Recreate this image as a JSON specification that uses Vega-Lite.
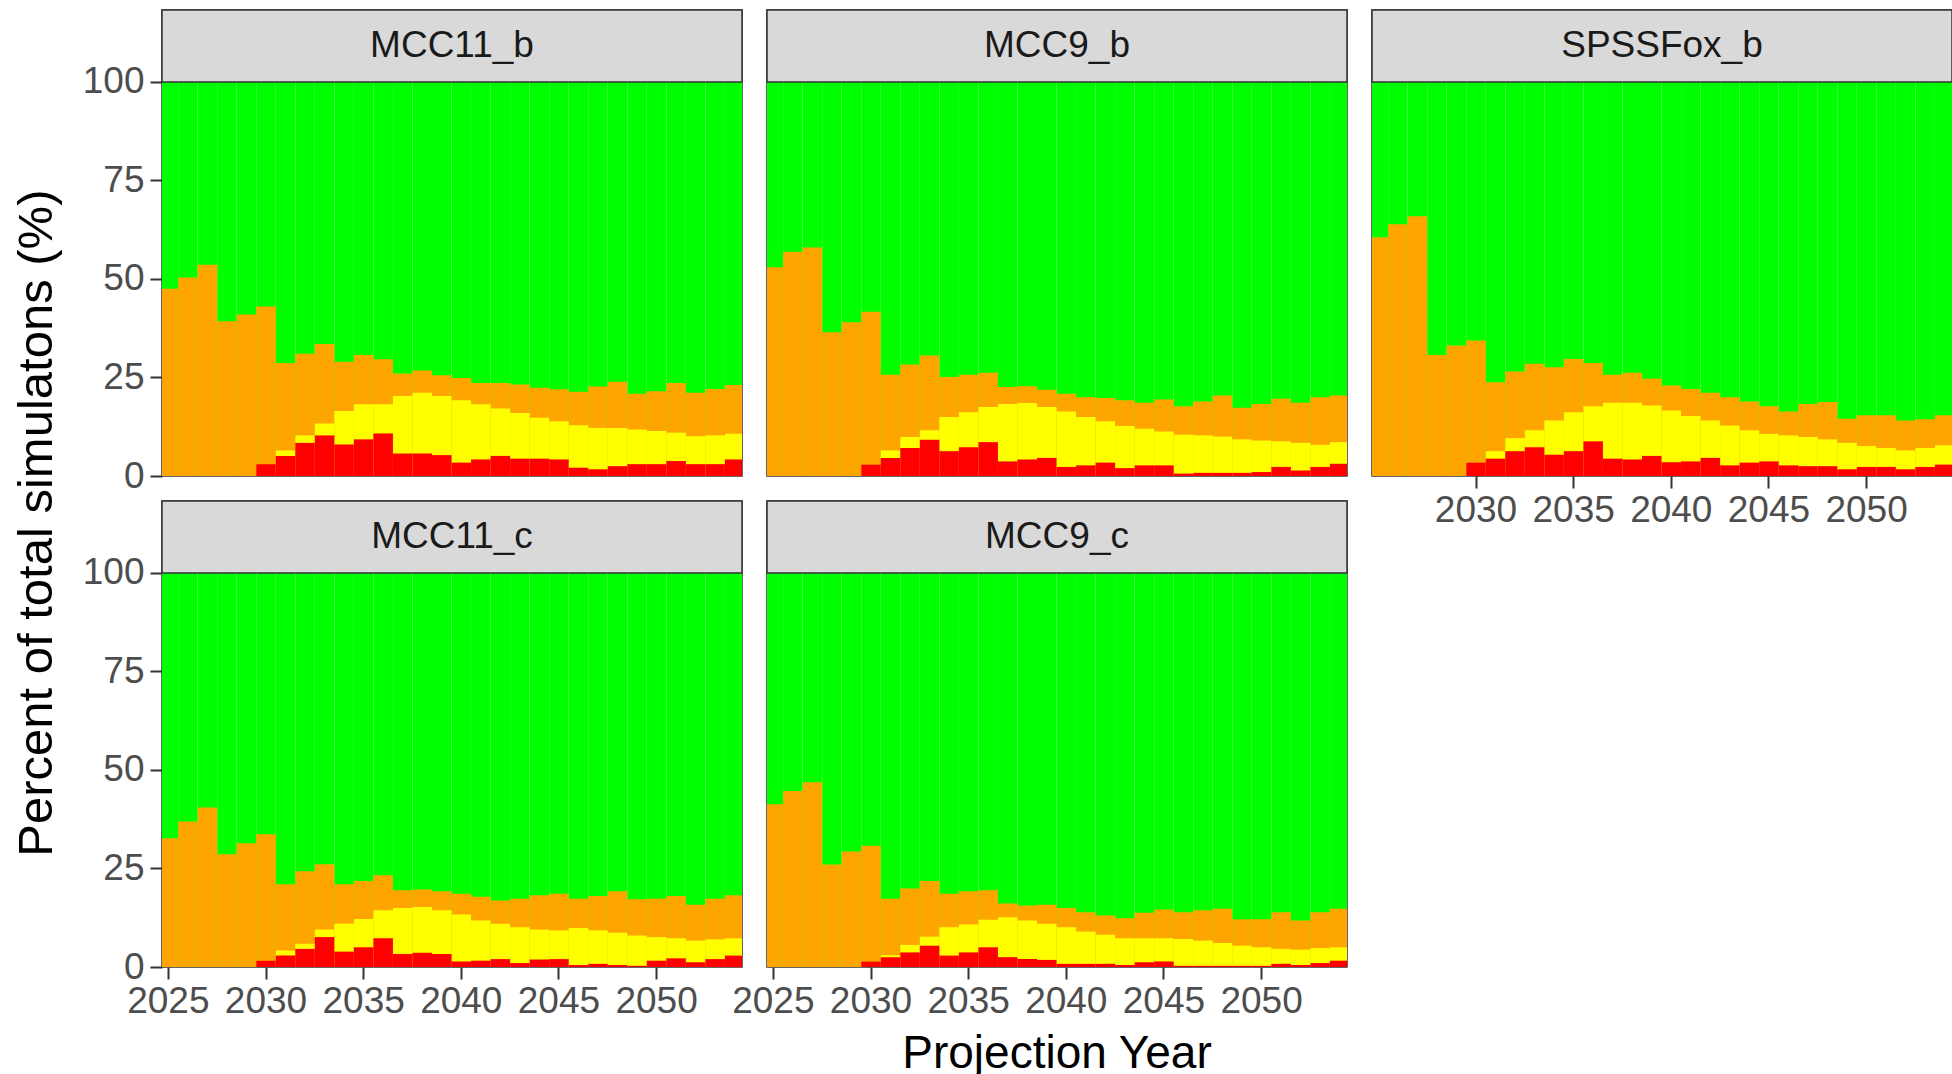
{
  "$schema": "https://vega.github.io/schema/vega-lite/v6.json",
  "background": "white",
  "padding": {"left": 12, "top": 8, "right": 0, "bottom": 0},
  "title": {"text": "Projection Year", "orient": "bottom", "anchor": "middle", "dx": 74, "fontSize": 46, "font": "Liberation Sans", "fontWeight": "normal", "color": "#000000", "offset": 12},
  "data": {"values": [
    {"p":"MCC11_b","y":2025,"r":0,"yl":0,"o":47.5},{"p":"MCC11_b","y":2026,"r":0,"yl":0,"o":50.4},{"p":"MCC11_b","y":2027,"r":0,"yl":0,"o":53.6},{"p":"MCC11_b","y":2028,"r":0,"yl":0,"o":39.3},{"p":"MCC11_b","y":2029,"r":0,"yl":0,"o":41},
    {"p":"MCC11_b","y":2030,"r":3,"yl":3,"o":43},{"p":"MCC11_b","y":2031,"r":5.1,"yl":6.5,"o":28.7},{"p":"MCC11_b","y":2032,"r":8.4,"yl":10.3,"o":31},{"p":"MCC11_b","y":2033,"r":10.3,"yl":13.3,"o":33.5},{"p":"MCC11_b","y":2034,"r":8,"yl":16.5,"o":29},
    {"p":"MCC11_b","y":2035,"r":9.3,"yl":18.2,"o":30.7},{"p":"MCC11_b","y":2036,"r":10.8,"yl":18.2,"o":29.6},{"p":"MCC11_b","y":2037,"r":5.7,"yl":20.3,"o":26},{"p":"MCC11_b","y":2038,"r":5.7,"yl":21.1,"o":26.8},{"p":"MCC11_b","y":2039,"r":5.3,"yl":20.3,"o":25.6},
    {"p":"MCC11_b","y":2040,"r":3.4,"yl":19.2,"o":24.9},{"p":"MCC11_b","y":2041,"r":4.2,"yl":18.2,"o":23.6},{"p":"MCC11_b","y":2042,"r":5.1,"yl":17.1,"o":23.6},{"p":"MCC11_b","y":2043,"r":4.4,"yl":16,"o":23.2},{"p":"MCC11_b","y":2044,"r":4.4,"yl":14.8,"o":22.4},
    {"p":"MCC11_b","y":2045,"r":4.2,"yl":13.9,"o":22},{"p":"MCC11_b","y":2046,"r":2.1,"yl":12.9,"o":21.4},{"p":"MCC11_b","y":2047,"r":1.7,"yl":12.2,"o":22.7},{"p":"MCC11_b","y":2048,"r":2.5,"yl":12.2,"o":23.9},{"p":"MCC11_b","y":2049,"r":3,"yl":11.8,"o":20.9},
    {"p":"MCC11_b","y":2050,"r":3,"yl":11.4,"o":21.5},{"p":"MCC11_b","y":2051,"r":3.8,"yl":11,"o":23.6},{"p":"MCC11_b","y":2052,"r":3,"yl":10.1,"o":21.1},{"p":"MCC11_b","y":2053,"r":3,"yl":10.3,"o":22.1},{"p":"MCC11_b","y":2054,"r":4.2,"yl":10.7,"o":23.1},

    {"p":"MCC9_b","y":2025,"r":0,"yl":0,"o":53},{"p":"MCC9_b","y":2026,"r":0,"yl":0,"o":56.9},{"p":"MCC9_b","y":2027,"r":0,"yl":0,"o":58},{"p":"MCC9_b","y":2028,"r":0,"yl":0,"o":36.5},{"p":"MCC9_b","y":2029,"r":0,"yl":0,"o":39},
    {"p":"MCC9_b","y":2030,"r":2.9,"yl":2.9,"o":41.7},{"p":"MCC9_b","y":2031,"r":4.6,"yl":6.5,"o":25.7},{"p":"MCC9_b","y":2032,"r":7.1,"yl":9.9,"o":28.3},{"p":"MCC9_b","y":2033,"r":9.2,"yl":11.6,"o":30.6},{"p":"MCC9_b","y":2034,"r":6.3,"yl":15,"o":25.1},
    {"p":"MCC9_b","y":2035,"r":7.3,"yl":16.2,"o":25.7},{"p":"MCC9_b","y":2036,"r":8.6,"yl":17.5,"o":26.2},{"p":"MCC9_b","y":2037,"r":3.7,"yl":18.3,"o":22.6},{"p":"MCC9_b","y":2038,"r":4.2,"yl":18.5,"o":22.8},{"p":"MCC9_b","y":2039,"r":4.6,"yl":17.5,"o":21.9},
    {"p":"MCC9_b","y":2040,"r":2.3,"yl":16.4,"o":20.9},{"p":"MCC9_b","y":2041,"r":2.7,"yl":15,"o":20},{"p":"MCC9_b","y":2042,"r":3.4,"yl":13.9,"o":19.8},{"p":"MCC9_b","y":2043,"r":2,"yl":12.7,"o":19.2},{"p":"MCC9_b","y":2044,"r":2.7,"yl":12,"o":18.6},
    {"p":"MCC9_b","y":2045,"r":2.7,"yl":11.3,"o":19.4},{"p":"MCC9_b","y":2046,"r":0.6,"yl":10.5,"o":17.7},{"p":"MCC9_b","y":2047,"r":0.8,"yl":10.3,"o":18.9},{"p":"MCC9_b","y":2048,"r":0.8,"yl":10,"o":20.4},{"p":"MCC9_b","y":2049,"r":0.8,"yl":9.3,"o":17.3},
    {"p":"MCC9_b","y":2050,"r":1,"yl":9,"o":18.3},{"p":"MCC9_b","y":2051,"r":2.3,"yl":8.8,"o":19.6},{"p":"MCC9_b","y":2052,"r":1.4,"yl":8.4,"o":18.6},{"p":"MCC9_b","y":2053,"r":2.3,"yl":7.9,"o":20},{"p":"MCC9_b","y":2054,"r":3.1,"yl":8.6,"o":20.4},

    {"p":"SPSSFox_b","y":2025,"r":0,"yl":0,"o":60.6},{"p":"SPSSFox_b","y":2026,"r":0,"yl":0,"o":63.9},{"p":"SPSSFox_b","y":2027,"r":0,"yl":0,"o":65.9},{"p":"SPSSFox_b","y":2028,"r":0,"yl":0,"o":30.7},{"p":"SPSSFox_b","y":2029,"r":0,"yl":0,"o":33.1},
    {"p":"SPSSFox_b","y":2030,"r":3.4,"yl":3.4,"o":34.4},{"p":"SPSSFox_b","y":2031,"r":4.4,"yl":6.3,"o":23.8},{"p":"SPSSFox_b","y":2032,"r":6.3,"yl":9.6,"o":26.5},{"p":"SPSSFox_b","y":2033,"r":7.3,"yl":11.6,"o":28.5},{"p":"SPSSFox_b","y":2034,"r":5.4,"yl":14.1,"o":27.6},
    {"p":"SPSSFox_b","y":2035,"r":6.3,"yl":16.2,"o":29.7},{"p":"SPSSFox_b","y":2036,"r":8.8,"yl":17.7,"o":28.7},{"p":"SPSSFox_b","y":2037,"r":4.4,"yl":18.6,"o":25.7},{"p":"SPSSFox_b","y":2038,"r":4.2,"yl":18.6,"o":26.2},{"p":"SPSSFox_b","y":2039,"r":5.1,"yl":17.9,"o":24.7},
    {"p":"SPSSFox_b","y":2040,"r":3.5,"yl":16.6,"o":23},{"p":"SPSSFox_b","y":2041,"r":3.7,"yl":15.2,"o":22.1},{"p":"SPSSFox_b","y":2042,"r":4.6,"yl":14.1,"o":21.1},{"p":"SPSSFox_b","y":2043,"r":2.7,"yl":12.8,"o":20},{"p":"SPSSFox_b","y":2044,"r":3.4,"yl":11.6,"o":18.9},
    {"p":"SPSSFox_b","y":2045,"r":3.7,"yl":10.7,"o":17.7},{"p":"SPSSFox_b","y":2046,"r":2.7,"yl":10.3,"o":16.4},{"p":"SPSSFox_b","y":2047,"r":2.5,"yl":9.9,"o":18.3},{"p":"SPSSFox_b","y":2048,"r":2.5,"yl":9.3,"o":18.8},{"p":"SPSSFox_b","y":2049,"r":1.7,"yl":8.4,"o":14.5},
    {"p":"SPSSFox_b","y":2050,"r":2.3,"yl":7.6,"o":15.4},{"p":"SPSSFox_b","y":2051,"r":2.3,"yl":7.1,"o":15.4},{"p":"SPSSFox_b","y":2052,"r":1.7,"yl":6.5,"o":14.1},{"p":"SPSSFox_b","y":2053,"r":2.3,"yl":7.1,"o":14.4},{"p":"SPSSFox_b","y":2054,"r":2.9,"yl":7.8,"o":15.4},

    {"p":"MCC11_c","y":2025,"r":0,"yl":0,"o":32.7},{"p":"MCC11_c","y":2026,"r":0,"yl":0,"o":36.9},{"p":"MCC11_c","y":2027,"r":0,"yl":0,"o":40.5},{"p":"MCC11_c","y":2028,"r":0,"yl":0,"o":28.6},{"p":"MCC11_c","y":2029,"r":0,"yl":0,"o":31.4},
    {"p":"MCC11_c","y":2030,"r":1.6,"yl":1.6,"o":33.7},{"p":"MCC11_c","y":2031,"r":2.9,"yl":4.2,"o":21},{"p":"MCC11_c","y":2032,"r":4.6,"yl":5.9,"o":24.3},{"p":"MCC11_c","y":2033,"r":7.6,"yl":9.5,"o":26.1},{"p":"MCC11_c","y":2034,"r":3.9,"yl":11,"o":21},
    {"p":"MCC11_c","y":2035,"r":5,"yl":12.2,"o":21.8},{"p":"MCC11_c","y":2036,"r":7.3,"yl":14.4,"o":23.3},{"p":"MCC11_c","y":2037,"r":3.3,"yl":15,"o":19.5},{"p":"MCC11_c","y":2038,"r":3.6,"yl":15.2,"o":19.7},{"p":"MCC11_c","y":2039,"r":3.3,"yl":14.4,"o":19.2},
    {"p":"MCC11_c","y":2040,"r":1.4,"yl":13.3,"o":18.6},{"p":"MCC11_c","y":2041,"r":1.6,"yl":11.8,"o":17.8},{"p":"MCC11_c","y":2042,"r":2,"yl":11,"o":16.9},{"p":"MCC11_c","y":2043,"r":1,"yl":10.1,"o":17.3},{"p":"MCC11_c","y":2044,"r":1.9,"yl":9.5,"o":18.2},
    {"p":"MCC11_c","y":2045,"r":2,"yl":9.3,"o":18.6},{"p":"MCC11_c","y":2046,"r":0.5,"yl":9.9,"o":17.3},{"p":"MCC11_c","y":2047,"r":0.8,"yl":9.3,"o":18},{"p":"MCC11_c","y":2048,"r":0.5,"yl":8.7,"o":19.2},{"p":"MCC11_c","y":2049,"r":0.3,"yl":8,"o":17.2},
    {"p":"MCC11_c","y":2050,"r":1.6,"yl":7.6,"o":17.3},{"p":"MCC11_c","y":2051,"r":2.2,"yl":7.3,"o":18},{"p":"MCC11_c","y":2052,"r":1.2,"yl":6.7,"o":15.8},{"p":"MCC11_c","y":2053,"r":2,"yl":7,"o":17.3},{"p":"MCC11_c","y":2054,"r":2.9,"yl":7.3,"o":18.2},

    {"p":"MCC9_c","y":2025,"r":0,"yl":0,"o":41.3},{"p":"MCC9_c","y":2026,"r":0,"yl":0,"o":44.7},{"p":"MCC9_c","y":2027,"r":0,"yl":0,"o":46.9},{"p":"MCC9_c","y":2028,"r":0,"yl":0,"o":26},{"p":"MCC9_c","y":2029,"r":0,"yl":0,"o":29.3},
    {"p":"MCC9_c","y":2030,"r":1.4,"yl":1.4,"o":30.8},{"p":"MCC9_c","y":2031,"r":2.5,"yl":3,"o":17.3},{"p":"MCC9_c","y":2032,"r":3.7,"yl":5.6,"o":19.9},{"p":"MCC9_c","y":2033,"r":5.4,"yl":7.7,"o":21.8},{"p":"MCC9_c","y":2034,"r":2.9,"yl":10.1,"o":18.6},
    {"p":"MCC9_c","y":2035,"r":3.7,"yl":10.8,"o":19.2},{"p":"MCC9_c","y":2036,"r":5,"yl":12,"o":19.5},{"p":"MCC9_c","y":2037,"r":2.5,"yl":12.6,"o":16.1},{"p":"MCC9_c","y":2038,"r":2,"yl":11.8,"o":15.6},{"p":"MCC9_c","y":2039,"r":1.8,"yl":11,"o":15.8},
    {"p":"MCC9_c","y":2040,"r":0.8,"yl":10.1,"o":15},{"p":"MCC9_c","y":2041,"r":0.8,"yl":9,"o":13.9},{"p":"MCC9_c","y":2042,"r":0.8,"yl":8.2,"o":13.1},{"p":"MCC9_c","y":2043,"r":0.5,"yl":7.3,"o":12.4},{"p":"MCC9_c","y":2044,"r":1.2,"yl":7.3,"o":13.8},
    {"p":"MCC9_c","y":2045,"r":1.4,"yl":7.3,"o":14.6},{"p":"MCC9_c","y":2046,"r":0.3,"yl":7.1,"o":13.9},{"p":"MCC9_c","y":2047,"r":0.3,"yl":6.7,"o":14.4},{"p":"MCC9_c","y":2048,"r":0.3,"yl":6.1,"o":14.8},{"p":"MCC9_c","y":2049,"r":0.3,"yl":5.4,"o":12.1},
    {"p":"MCC9_c","y":2050,"r":0.3,"yl":5,"o":12.1},{"p":"MCC9_c","y":2051,"r":0.8,"yl":4.6,"o":13.9},{"p":"MCC9_c","y":2052,"r":0.5,"yl":4.4,"o":11.8},{"p":"MCC9_c","y":2053,"r":1,"yl":4.8,"o":13.9},{"p":"MCC9_c","y":2054,"r":1.6,"yl":5,"o":14.8}
  ]},
  "vconcat": [
    {
      "title": {"text": "Percent of total simulatons (%)", "orient": "left", "anchor": "middle", "dx": -9, "fontSize": 49, "font": "Liberation Sans", "fontWeight": "normal", "color": "#000000", "offset": 20},
      "columns": 3,
      "bounds": "flush",
      "spacing": {"row": 25, "column": 25},
      "concat": [
        {
          "width": 580, "height": 466,
          "transform": [{"filter": {"field": "p", "equal": "MCC11_b"}}],
          "layer": [
            {"mark": {"type": "bar", "color": "#00FF00", "clip": true}, "encoding": {
              "x": {"field": "y", "type": "quantitative", "bin": {"step": 1, "extent": [2024.5, 2054.5], "nice": false}, "scale": {"domain": [2024.7, 2054.4], "nice": false, "zero": false}, "axis": null},
              "y": {"datum": 100, "type": "quantitative", "scale": {"domain": [0, 118.27], "nice": false}, "axis": {"values": [0, 25, 50, 75, 100], "title": null}}}},
            {"mark": {"type": "bar", "color": "#FFA500", "clip": true}, "encoding": {
              "x": {"field": "y", "type": "quantitative", "bin": {"step": 1, "extent": [2024.5, 2054.5], "nice": false}, "scale": {"domain": [2024.7, 2054.4], "nice": false, "zero": false}, "axis": null},
              "y": {"field": "o", "type": "quantitative", "scale": {"domain": [0, 118.27], "nice": false}, "axis": {"values": [0, 25, 50, 75, 100], "title": null}}}},
            {"mark": {"type": "bar", "color": "#FFFF00", "clip": true}, "encoding": {
              "x": {"field": "y", "type": "quantitative", "bin": {"step": 1, "extent": [2024.5, 2054.5], "nice": false}, "scale": {"domain": [2024.7, 2054.4], "nice": false, "zero": false}, "axis": null},
              "y": {"field": "yl", "type": "quantitative", "scale": {"domain": [0, 118.27], "nice": false}, "axis": {"values": [0, 25, 50, 75, 100], "title": null}}}},
            {"mark": {"type": "bar", "color": "#FF0000", "clip": true}, "encoding": {
              "x": {"field": "y", "type": "quantitative", "bin": {"step": 1, "extent": [2024.5, 2054.5], "nice": false}, "scale": {"domain": [2024.7, 2054.4], "nice": false, "zero": false}, "axis": null},
              "y": {"field": "r", "type": "quantitative", "scale": {"domain": [0, 118.27], "nice": false}, "axis": {"values": [0, 25, 50, 75, 100], "title": null}}}},
            {"transform": [{"aggregate": [{"op": "count", "as": "n"}], "groupby": ["p"]}],
             "mark": {"type": "rect", "fill": "#D9D9D9", "stroke": "#333333", "strokeWidth": 1.5}, "encoding": {
              "x": {"datum": 2024.7, "type": "quantitative", "axis": null}, "x2": {"datum": 2054.4},
              "y": {"datum": 100, "type": "quantitative", "axis": {"values": [0, 25, 50, 75, 100], "title": null}}, "y2": {"datum": 118.27}}},
            {"transform": [{"aggregate": [{"op": "count", "as": "n"}], "groupby": ["p"]}],
             "mark": {"type": "text", "fontSize": 37, "font": "Liberation Sans", "color": "#1A1A1A", "align": "center", "baseline": "middle"}, "encoding": {
              "x": {"datum": 2039.55, "type": "quantitative", "axis": null},
              "y": {"datum": 109.1, "type": "quantitative", "axis": {"values": [0, 25, 50, 75, 100], "title": null}},
              "text": {"field": "p", "type": "nominal"}}}
          ]
        },
        {
          "width": 580, "height": 466,
          "transform": [{"filter": {"field": "p", "equal": "MCC9_b"}}],
          "layer": [
            {"mark": {"type": "bar", "color": "#00FF00", "clip": true}, "encoding": {
              "x": {"field": "y", "type": "quantitative", "bin": {"step": 1, "extent": [2024.5, 2054.5], "nice": false}, "scale": {"domain": [2024.7, 2054.4], "nice": false, "zero": false}, "axis": null},
              "y": {"datum": 100, "type": "quantitative", "scale": {"domain": [0, 118.27], "nice": false}, "axis": null}}},
            {"mark": {"type": "bar", "color": "#FFA500", "clip": true}, "encoding": {
              "x": {"field": "y", "type": "quantitative", "bin": {"step": 1, "extent": [2024.5, 2054.5], "nice": false}, "scale": {"domain": [2024.7, 2054.4], "nice": false, "zero": false}, "axis": null},
              "y": {"field": "o", "type": "quantitative", "scale": {"domain": [0, 118.27], "nice": false}, "axis": null}}},
            {"mark": {"type": "bar", "color": "#FFFF00", "clip": true}, "encoding": {
              "x": {"field": "y", "type": "quantitative", "bin": {"step": 1, "extent": [2024.5, 2054.5], "nice": false}, "scale": {"domain": [2024.7, 2054.4], "nice": false, "zero": false}, "axis": null},
              "y": {"field": "yl", "type": "quantitative", "scale": {"domain": [0, 118.27], "nice": false}, "axis": null}}},
            {"mark": {"type": "bar", "color": "#FF0000", "clip": true}, "encoding": {
              "x": {"field": "y", "type": "quantitative", "bin": {"step": 1, "extent": [2024.5, 2054.5], "nice": false}, "scale": {"domain": [2024.7, 2054.4], "nice": false, "zero": false}, "axis": null},
              "y": {"field": "r", "type": "quantitative", "scale": {"domain": [0, 118.27], "nice": false}, "axis": null}}},
            {"transform": [{"aggregate": [{"op": "count", "as": "n"}], "groupby": ["p"]}],
             "mark": {"type": "rect", "fill": "#D9D9D9", "stroke": "#333333", "strokeWidth": 1.5}, "encoding": {
              "x": {"datum": 2024.7, "type": "quantitative", "axis": null}, "x2": {"datum": 2054.4},
              "y": {"datum": 100, "type": "quantitative", "axis": null}, "y2": {"datum": 118.27}}},
            {"transform": [{"aggregate": [{"op": "count", "as": "n"}], "groupby": ["p"]}],
             "mark": {"type": "text", "fontSize": 37, "font": "Liberation Sans", "color": "#1A1A1A", "align": "center", "baseline": "middle"}, "encoding": {
              "x": {"datum": 2039.55, "type": "quantitative", "axis": null},
              "y": {"datum": 109.1, "type": "quantitative", "axis": null},
              "text": {"field": "p", "type": "nominal"}}}
          ]
        },
        {
          "width": 580, "height": 466,
          "transform": [{"filter": {"field": "p", "equal": "SPSSFox_b"}}],
          "layer": [
            {"mark": {"type": "bar", "color": "#00FF00", "clip": true}, "encoding": {
              "x": {"field": "y", "type": "quantitative", "bin": {"step": 1, "extent": [2024.5, 2054.5], "nice": false}, "scale": {"domain": [2024.7, 2054.4], "nice": false, "zero": false}, "axis": {"values": [2030, 2035, 2040, 2045, 2050], "format": "d", "title": null}},
              "y": {"datum": 100, "type": "quantitative", "scale": {"domain": [0, 118.27], "nice": false}, "axis": null}}},
            {"mark": {"type": "bar", "color": "#FFA500", "clip": true}, "encoding": {
              "x": {"field": "y", "type": "quantitative", "bin": {"step": 1, "extent": [2024.5, 2054.5], "nice": false}, "scale": {"domain": [2024.7, 2054.4], "nice": false, "zero": false}, "axis": {"values": [2030, 2035, 2040, 2045, 2050], "format": "d", "title": null}},
              "y": {"field": "o", "type": "quantitative", "scale": {"domain": [0, 118.27], "nice": false}, "axis": null}}},
            {"mark": {"type": "bar", "color": "#FFFF00", "clip": true}, "encoding": {
              "x": {"field": "y", "type": "quantitative", "bin": {"step": 1, "extent": [2024.5, 2054.5], "nice": false}, "scale": {"domain": [2024.7, 2054.4], "nice": false, "zero": false}, "axis": {"values": [2030, 2035, 2040, 2045, 2050], "format": "d", "title": null}},
              "y": {"field": "yl", "type": "quantitative", "scale": {"domain": [0, 118.27], "nice": false}, "axis": null}}},
            {"mark": {"type": "bar", "color": "#FF0000", "clip": true}, "encoding": {
              "x": {"field": "y", "type": "quantitative", "bin": {"step": 1, "extent": [2024.5, 2054.5], "nice": false}, "scale": {"domain": [2024.7, 2054.4], "nice": false, "zero": false}, "axis": {"values": [2030, 2035, 2040, 2045, 2050], "format": "d", "title": null}},
              "y": {"field": "r", "type": "quantitative", "scale": {"domain": [0, 118.27], "nice": false}, "axis": null}}},
            {"transform": [{"aggregate": [{"op": "count", "as": "n"}], "groupby": ["p"]}],
             "mark": {"type": "rect", "fill": "#D9D9D9", "stroke": "#333333", "strokeWidth": 1.5}, "encoding": {
              "x": {"datum": 2024.7, "type": "quantitative", "axis": {"values": [2030, 2035, 2040, 2045, 2050], "format": "d", "title": null}}, "x2": {"datum": 2054.4},
              "y": {"datum": 100, "type": "quantitative", "axis": null}, "y2": {"datum": 118.27}}},
            {"transform": [{"aggregate": [{"op": "count", "as": "n"}], "groupby": ["p"]}],
             "mark": {"type": "text", "fontSize": 37, "font": "Liberation Sans", "color": "#1A1A1A", "align": "center", "baseline": "middle"}, "encoding": {
              "x": {"datum": 2039.55, "type": "quantitative", "axis": {"values": [2030, 2035, 2040, 2045, 2050], "format": "d", "title": null}},
              "y": {"datum": 109.1, "type": "quantitative", "axis": null},
              "text": {"field": "p", "type": "nominal"}}}
          ]
        },
        {
          "width": 580, "height": 466,
          "transform": [{"filter": {"field": "p", "equal": "MCC11_c"}}],
          "layer": [
            {"mark": {"type": "bar", "color": "#00FF00", "clip": true}, "encoding": {
              "x": {"field": "y", "type": "quantitative", "bin": {"step": 1, "extent": [2024.5, 2054.5], "nice": false}, "scale": {"domain": [2024.7, 2054.4], "nice": false, "zero": false}, "axis": {"values": [2025, 2030, 2035, 2040, 2045, 2050], "format": "d", "title": null}},
              "y": {"datum": 100, "type": "quantitative", "scale": {"domain": [0, 118.27], "nice": false}, "axis": {"values": [0, 25, 50, 75, 100], "title": null}}}},
            {"mark": {"type": "bar", "color": "#FFA500", "clip": true}, "encoding": {
              "x": {"field": "y", "type": "quantitative", "bin": {"step": 1, "extent": [2024.5, 2054.5], "nice": false}, "scale": {"domain": [2024.7, 2054.4], "nice": false, "zero": false}, "axis": {"values": [2025, 2030, 2035, 2040, 2045, 2050], "format": "d", "title": null}},
              "y": {"field": "o", "type": "quantitative", "scale": {"domain": [0, 118.27], "nice": false}, "axis": {"values": [0, 25, 50, 75, 100], "title": null}}}},
            {"mark": {"type": "bar", "color": "#FFFF00", "clip": true}, "encoding": {
              "x": {"field": "y", "type": "quantitative", "bin": {"step": 1, "extent": [2024.5, 2054.5], "nice": false}, "scale": {"domain": [2024.7, 2054.4], "nice": false, "zero": false}, "axis": {"values": [2025, 2030, 2035, 2040, 2045, 2050], "format": "d", "title": null}},
              "y": {"field": "yl", "type": "quantitative", "scale": {"domain": [0, 118.27], "nice": false}, "axis": {"values": [0, 25, 50, 75, 100], "title": null}}}},
            {"mark": {"type": "bar", "color": "#FF0000", "clip": true}, "encoding": {
              "x": {"field": "y", "type": "quantitative", "bin": {"step": 1, "extent": [2024.5, 2054.5], "nice": false}, "scale": {"domain": [2024.7, 2054.4], "nice": false, "zero": false}, "axis": {"values": [2025, 2030, 2035, 2040, 2045, 2050], "format": "d", "title": null}},
              "y": {"field": "r", "type": "quantitative", "scale": {"domain": [0, 118.27], "nice": false}, "axis": {"values": [0, 25, 50, 75, 100], "title": null}}}},
            {"transform": [{"aggregate": [{"op": "count", "as": "n"}], "groupby": ["p"]}],
             "mark": {"type": "rect", "fill": "#D9D9D9", "stroke": "#333333", "strokeWidth": 1.5}, "encoding": {
              "x": {"datum": 2024.7, "type": "quantitative", "axis": {"values": [2025, 2030, 2035, 2040, 2045, 2050], "format": "d", "title": null}}, "x2": {"datum": 2054.4},
              "y": {"datum": 100, "type": "quantitative", "axis": {"values": [0, 25, 50, 75, 100], "title": null}}, "y2": {"datum": 118.27}}},
            {"transform": [{"aggregate": [{"op": "count", "as": "n"}], "groupby": ["p"]}],
             "mark": {"type": "text", "fontSize": 37, "font": "Liberation Sans", "color": "#1A1A1A", "align": "center", "baseline": "middle"}, "encoding": {
              "x": {"datum": 2039.55, "type": "quantitative", "axis": {"values": [2025, 2030, 2035, 2040, 2045, 2050], "format": "d", "title": null}},
              "y": {"datum": 109.1, "type": "quantitative", "axis": {"values": [0, 25, 50, 75, 100], "title": null}},
              "text": {"field": "p", "type": "nominal"}}}
          ]
        },
        {
          "width": 580, "height": 466,
          "transform": [{"filter": {"field": "p", "equal": "MCC9_c"}}],
          "layer": [
            {"mark": {"type": "bar", "color": "#00FF00", "clip": true}, "encoding": {
              "x": {"field": "y", "type": "quantitative", "bin": {"step": 1, "extent": [2024.5, 2054.5], "nice": false}, "scale": {"domain": [2024.7, 2054.4], "nice": false, "zero": false}, "axis": {"values": [2025, 2030, 2035, 2040, 2045, 2050], "format": "d", "title": null}},
              "y": {"datum": 100, "type": "quantitative", "scale": {"domain": [0, 118.27], "nice": false}, "axis": null}}},
            {"mark": {"type": "bar", "color": "#FFA500", "clip": true}, "encoding": {
              "x": {"field": "y", "type": "quantitative", "bin": {"step": 1, "extent": [2024.5, 2054.5], "nice": false}, "scale": {"domain": [2024.7, 2054.4], "nice": false, "zero": false}, "axis": {"values": [2025, 2030, 2035, 2040, 2045, 2050], "format": "d", "title": null}},
              "y": {"field": "o", "type": "quantitative", "scale": {"domain": [0, 118.27], "nice": false}, "axis": null}}},
            {"mark": {"type": "bar", "color": "#FFFF00", "clip": true}, "encoding": {
              "x": {"field": "y", "type": "quantitative", "bin": {"step": 1, "extent": [2024.5, 2054.5], "nice": false}, "scale": {"domain": [2024.7, 2054.4], "nice": false, "zero": false}, "axis": {"values": [2025, 2030, 2035, 2040, 2045, 2050], "format": "d", "title": null}},
              "y": {"field": "yl", "type": "quantitative", "scale": {"domain": [0, 118.27], "nice": false}, "axis": null}}},
            {"mark": {"type": "bar", "color": "#FF0000", "clip": true}, "encoding": {
              "x": {"field": "y", "type": "quantitative", "bin": {"step": 1, "extent": [2024.5, 2054.5], "nice": false}, "scale": {"domain": [2024.7, 2054.4], "nice": false, "zero": false}, "axis": {"values": [2025, 2030, 2035, 2040, 2045, 2050], "format": "d", "title": null}},
              "y": {"field": "r", "type": "quantitative", "scale": {"domain": [0, 118.27], "nice": false}, "axis": null}}},
            {"transform": [{"aggregate": [{"op": "count", "as": "n"}], "groupby": ["p"]}],
             "mark": {"type": "rect", "fill": "#D9D9D9", "stroke": "#333333", "strokeWidth": 1.5}, "encoding": {
              "x": {"datum": 2024.7, "type": "quantitative", "axis": {"values": [2025, 2030, 2035, 2040, 2045, 2050], "format": "d", "title": null}}, "x2": {"datum": 2054.4},
              "y": {"datum": 100, "type": "quantitative", "axis": null}, "y2": {"datum": 118.27}}},
            {"transform": [{"aggregate": [{"op": "count", "as": "n"}], "groupby": ["p"]}],
             "mark": {"type": "text", "fontSize": 37, "font": "Liberation Sans", "color": "#1A1A1A", "align": "center", "baseline": "middle"}, "encoding": {
              "x": {"datum": 2039.55, "type": "quantitative", "axis": {"values": [2025, 2030, 2035, 2040, 2045, 2050], "format": "d", "title": null}},
              "y": {"datum": 109.1, "type": "quantitative", "axis": null},
              "text": {"field": "p", "type": "nominal"}}}
          ]
        }
      ]
    }
  ],
  "config": {
    "view": {"stroke": "#333333", "strokeWidth": 1.5},
    "bar": {"binSpacing": 0, "strokeWidth": 0},
    "axis": {"domain": false, "grid": false, "tickSize": 12, "tickWidth": 2, "tickColor": "#333333", "labelFont": "Liberation Sans", "labelColor": "#4D4D4D", "labelFontSize": 37},
    "axisX": {"labelFlush": false, "labelOverlap": false, "labelPadding": 4},
    "axisY": {"labelPadding": 6}
  }
}
